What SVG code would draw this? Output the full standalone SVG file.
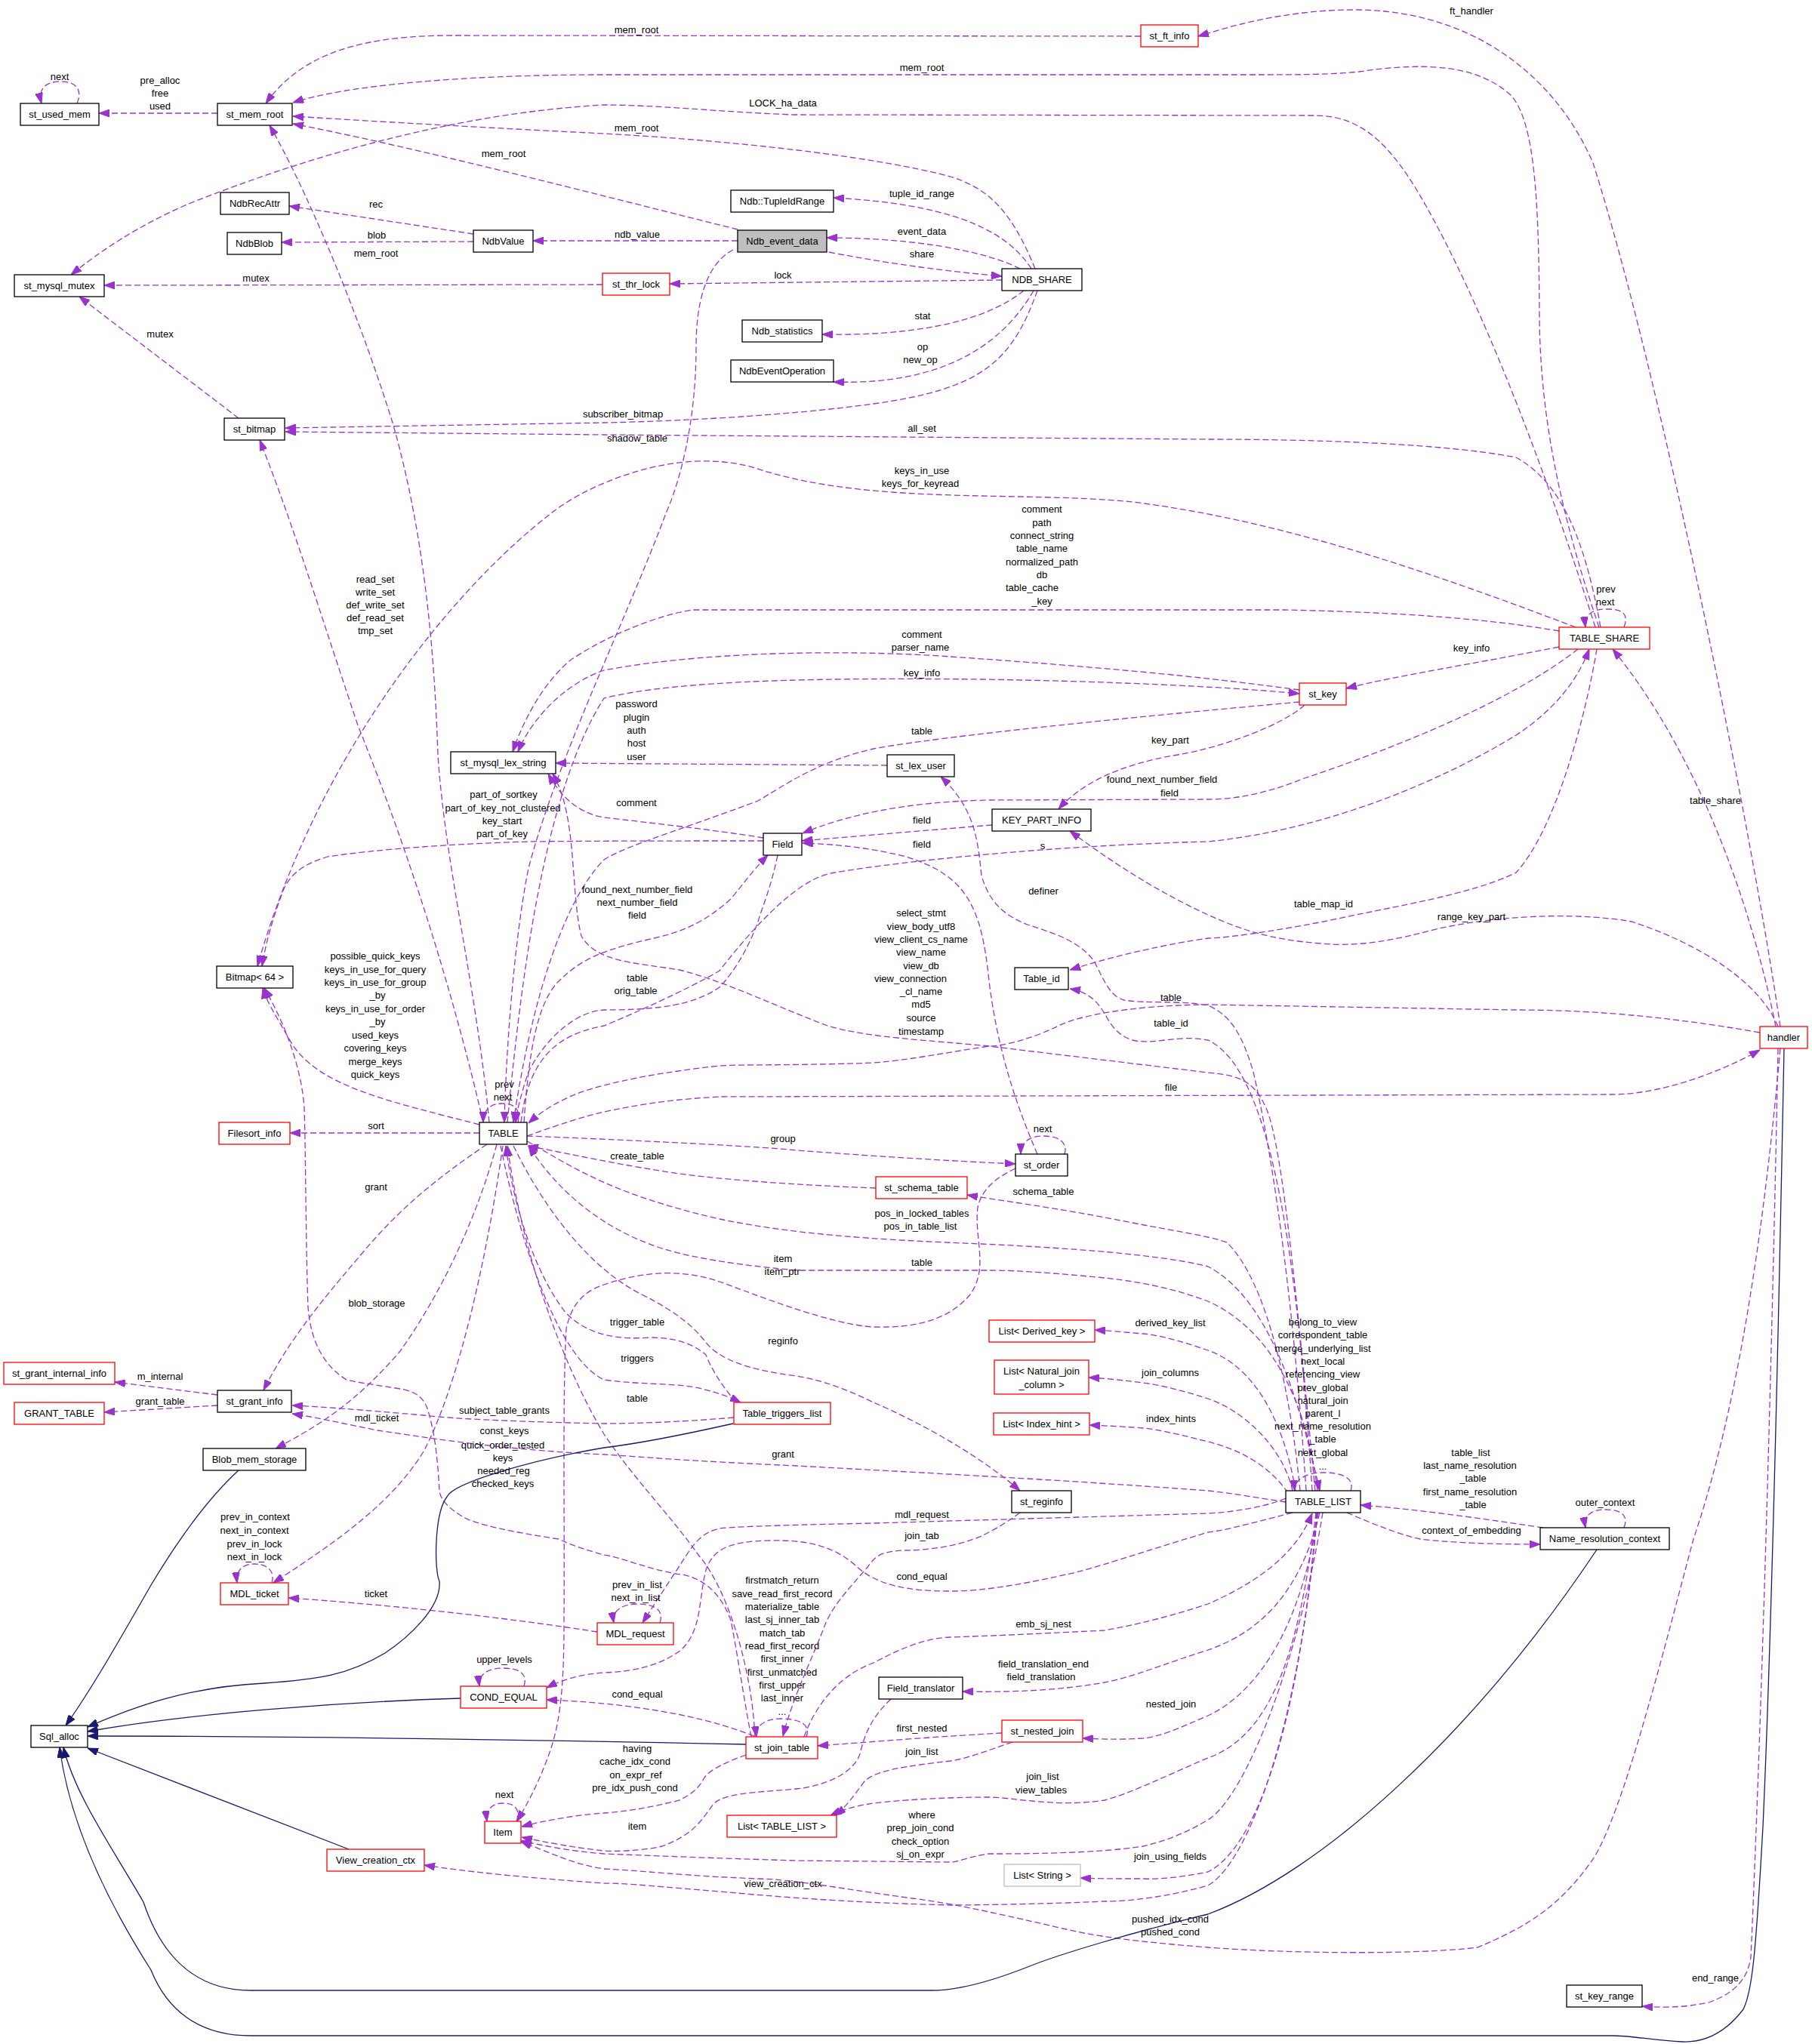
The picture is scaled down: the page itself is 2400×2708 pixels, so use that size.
<svg xmlns="http://www.w3.org/2000/svg" width="2400" height="2708" viewBox="0 0 2400 2708">
<style>
text{font-family:"Liberation Sans",Arial,sans-serif;font-size:13px;text-anchor:middle;fill:#000}
.n rect{fill:#fff;stroke:#000;stroke-width:1.3}
.n.r rect{stroke:#ff0000}
.n.g rect{stroke:#bfbfbf}
.n.f rect{fill:#bfbfbf}
.e{fill:none;stroke:#9a32cd;stroke-width:1.3;stroke-dasharray:8,4;marker-end:url(#ap)}
.i{fill:none;stroke:#191970;stroke-width:1.3;marker-end:url(#ab)}
</style>
<defs>
<marker id="ap" viewBox="0 0 14 10" refX="14" refY="5" markerWidth="14" markerHeight="10" markerUnits="userSpaceOnUse" orient="auto"><path d="M0,0L14,5L0,10z" fill="#9a32cd" stroke="#9a32cd"/></marker>
<marker id="ab" viewBox="0 0 14 10" refX="14" refY="5" markerWidth="14" markerHeight="10" markerUnits="userSpaceOnUse" orient="auto"><path d="M0,0L14,5L0,10z" fill="#191970" stroke="#191970"/></marker>
</defs>
<rect width="2400" height="2708" fill="#fff"/>
<g id="connectors">
<path class="e" d="M2358,1360 C2320,1100 2200,500 2110,216 C2060,100 1950,15 1800,13 C1700,12 1620,38 1587,48"/><text x="1949" y="19">ft_handler</text>
<path class="e" d="M1511,48 L600,47 C480,47 400,70 352,137"/><text x="843" y="44">mem_root</text>
<path class="e" d="M2118,831 C2070,690 2040,560 2039,420 C2038,280 2035,160 2000,125 C1960,90 1900,80 1800,95 C1760,99 1720,99 1650,99 L800,99 C600,99 450,115 388,136"/><text x="1221" y="94">mem_root</text>
<path class="e" d="M2113,831 C2040,600 1960,400 1890,275 C1840,185 1800,153 1740,153 L1050,152 C950,148 870,139 800,139 C600,150 400,210 250,270 C180,300 130,335 94,364"/><text x="1037" y="141">LOCK_ha_data</text>
<path class="e" d="M1371,356 C1340,280 1310,250 1259,234 C1150,205 950,185 800,177 C600,167 450,158 388,154"/><text x="843" y="174">mem_root</text>
<path class="e" d="M977,304 C800,260 550,195 388,164"/><text x="667" y="208">mem_root</text>
<path class="e" d="M648,1487 C630,1300 590,1150 580,1000 C575,850 560,700 520,560 C470,400 400,240 357,166"/><text x="498" y="340">mem_root</text>
<path class="e" d="M102,137 C110,118 100,108 80,108 C60,108 50,118 55,137"/><text x="79" y="106">next</text>
<path class="e" d="M288,150 L131,150"/><text x="212" y="111">pre_alloc</text><text x="212" y="128">free</text><text x="212" y="145">used</text>
<path class="e" d="M627,310 L383,273"/><text x="498" y="275">rec</text>
<path class="e" d="M627,320 L373,321"/><text x="499" y="316">blob</text>
<path class="e" d="M977,319 L706,319"/><text x="844" y="315">ndb_value</text>
<path class="e" d="M798,377 L138,378"/><text x="339" y="373">mutex</text>
<path class="e" d="M316,554 L105,393"/><text x="212" y="447">mutex</text>
<path class="e" d="M1366,356 C1330,300 1250,270 1104,262"/><text x="1221" y="261">tuple_id_range</text>
<path class="e" d="M1351,356 C1300,330 1200,315 1095,315"/><text x="1221" y="311">event_data</text>
<path class="e" d="M1098,334 C1180,350 1260,360 1327,366"/><text x="1221" y="341">share</text>
<path class="e" d="M1327,371 L887,376"/><text x="1037" y="369">lock</text>
<path class="e" d="M1356,385 C1300,430 1200,445 1089,443"/><text x="1222" y="423">stat</text>
<path class="e" d="M1369,385 C1320,470 1230,510 1104,506"/><text x="1222" y="464">op</text><text x="1219" y="481">new_op</text>
<path class="e" d="M1374,385 C1340,480 1300,515 1157,535 C1050,550 900,558 800,560 L378,567"/><text x="825" y="553">subscriber_bitmap</text>
<path class="e" d="M2120,831 C2100,720 2070,640 2008,606 C1900,585 1700,582 1600,582 L800,576 L378,572"/><text x="1221" y="572">all_set</text>
<path class="e" d="M971,331 C935,350 922,400 922,460 C922,560 900,640 882,680 C830,820 740,1000 700,1150 C680,1250 670,1400 668,1487"/><text x="844" y="585">shadow_table</text>
<path class="e" d="M2087,831 C1900,760 1700,690 1500,665 C1350,650 1150,670 1000,620 C900,590 780,640 730,680 C600,780 420,1000 341,1280"/><text x="1221" y="628">keys_in_use</text><text x="1219" y="645">keys_for_keyread</text>
<path class="e" d="M1011,1114 C900,1114 800,1114 700,1115 C600,1118 500,1125 434,1135 C400,1145 383,1160 375,1180 C360,1220 352,1250 347,1280"/><text x="667" y="1057">part_of_sortkey</text><text x="666" y="1075">part_of_key_not_clustered</text><text x="665" y="1092">key_start</text><text x="665" y="1109">part_of_key</text>
<path class="e" d="M635,1490 C520,1460 420,1440 385,1380 C365,1345 352,1325 348,1309"/><text x="497" y="1271">possible_quick_keys</text><text x="497" y="1289">keys_in_use_for_query</text><text x="497" y="1306">keys_in_use_for_group</text><text x="500" y="1323">_by</text><text x="497" y="1341">keys_in_use_for_order</text><text x="500" y="1358">_by</text><text x="497" y="1376">used_keys</text><text x="497" y="1393">covering_keys</text><text x="497" y="1411">merge_keys</text><text x="497" y="1428">quick_keys</text>
<path class="e" d="M640,1487 C620,1400 570,1200 474,961 C420,800 390,700 344,583"/><text x="497" y="772">read_set</text><text x="497" y="789">write_set</text><text x="497" y="806">def_write_set</text><text x="497" y="823">def_read_set</text><text x="497" y="840">tmp_set</text>
<path class="e" d="M2065,836 C2000,825 1900,812 1700,808 L917,808 C870,815 800,844 755,875 C720,905 695,950 679,996"/><text x="1380" y="679">comment</text><text x="1380" y="697">path</text><text x="1380" y="714">connect_string</text><text x="1380" y="731">table_name</text><text x="1380" y="749">normalized_path</text><text x="1380" y="766">db</text><text x="1367" y="783">table_cache</text><text x="1380" y="801">_key</text>
<path class="e" d="M1721,914 C1650,905 1550,890 1259,870 C1150,862 950,860 800,888 C750,905 705,950 686,996"/><text x="1221" y="845">comment</text><text x="1219" y="862">parser_name</text>
<path class="e" d="M672,1487 C690,1300 720,1050 800,925 C900,900 1100,898 1300,900 C1500,903 1650,912 1721,919"/><text x="1221" y="896">key_info</text>
<path class="e" d="M2065,857 C1950,880 1850,895 1783,912"/><text x="1949" y="863">key_info</text>
<path class="e" d="M1175,1014 L736,1011"/><text x="843" y="937">password</text><text x="843" y="955">plugin</text><text x="843" y="972">auth</text><text x="843" y="989">host</text><text x="843" y="1007">user</text>
<path class="e" d="M1728,934 C1700,960 1620,990 1560,1000 C1480,1013 1430,1040 1402,1072"/><text x="1550" y="985">key_part</text>
<path class="e" d="M2090,860 C2000,930 1850,990 1728,1031 C1680,1050 1640,1059 1600,1059 L1310,1060 C1200,1062 1120,1080 1063,1104"/><text x="1539" y="1037">found_next_number_field</text><text x="1549" y="1055">field</text>
<path class="e" d="M1314,1093 L1062,1114"/><text x="1221" y="1091">field</text>
<path class="e" d="M1374,1529 C1340,1450 1320,1380 1310,1300 C1300,1200 1280,1160 1200,1135 C1140,1120 1090,1118 1063,1117"/><text x="1221" y="1123">field</text>
<path class="e" d="M690,1487 C700,1400 740,1370 800,1359 C870,1330 930,1300 953,1286 C1020,1200 1070,1160 1106,1156 C1200,1140 1400,1120 1600,1115 C1750,1100 1900,1040 2008,974 C2060,940 2090,900 2105,860"/><text x="1381" y="1125">s</text>
<path class="e" d="M1721,930 C1500,950 1250,975 1157,992 C1080,1010 1040,1040 1004,1061 C900,1100 830,1120 800,1139 C740,1200 700,1350 680,1487"/><text x="1221" y="973">table</text>
<path class="e" d="M1011,1110 C950,1100 860,1090 800,1083 C770,1078 745,1060 726,1025"/><text x="843" y="1068">comment</text>
<path class="e" d="M1742,1975 C1720,1750 1700,1520 1677,1468 C1660,1430 1640,1425 1600,1421 L1310,1386 C1230,1378 1150,1375 1096,1359 C1020,1330 960,1300 900,1285 C840,1275 790,1275 770,1240 C755,1180 765,1080 732,1025"/><text x="1220" y="1214">select_stmt</text><text x="1220" y="1232">view_body_utf8</text><text x="1220" y="1249">view_client_cs_name</text><text x="1220" y="1266">view_name</text><text x="1220" y="1284">view_db</text><text x="1206" y="1301">view_connection</text><text x="1220" y="1318">_cl_name</text><text x="1220" y="1335">md5</text><text x="1220" y="1353">source</text><text x="1220" y="1371">timestamp</text>
<path class="e" d="M2355,1360 C2330,1300 2250,1250 2161,1221 C2100,1210 2000,1210 1906,1230 C1850,1245 1800,1255 1750,1250 C1680,1245 1640,1230 1600,1212 C1530,1180 1470,1140 1417,1101"/><text x="1949" y="1219">range_key_part</text>
<path class="e" d="M2352,1360 C2320,1200 2250,1000 2136,860"/><text x="2272" y="1065">table_share</text>
<path class="e" d="M2151,831 C2158,812 2148,807 2128,807 C2108,807 2098,815 2100,831"/><text x="2127" y="785">prev</text><text x="2126" y="802">next</text>
<path class="e" d="M1738,1975 C1720,1700 1690,1420 1600,1378 C1560,1370 1530,1385 1500,1378 C1475,1370 1468,1350 1460,1338 C1450,1322 1435,1313 1417,1310"/><text x="1551" y="1360">table_id</text>
<path class="e" d="M2115,860 C2100,950 2060,1100 2008,1156 C1950,1185 1850,1200 1753,1221 C1680,1235 1620,1243 1600,1243 C1550,1250 1480,1265 1417,1285"/><text x="1753" y="1202">table_map_id</text>
<path class="e" d="M2331,1368 C2200,1345 2100,1338 2008,1338 L1600,1331 C1500,1332 1430,1345 1402,1359 C1370,1375 1330,1386 1310,1386 C1250,1395 1200,1405 1157,1408 C1050,1412 980,1410 953,1412 C880,1420 830,1430 800,1438 C750,1450 720,1470 700,1488"/><text x="1551" y="1326">table</text>
<path class="e" d="M698,1505 C740,1490 770,1480 800,1473 C870,1458 920,1455 953,1453 L2136,1450 C2200,1450 2280,1420 2331,1391"/><text x="1551" y="1445">file</text>
<path class="e" d="M1730,1975 C1715,1750 1690,1550 1660,1420 C1645,1370 1630,1345 1600,1332 C1560,1325 1520,1330 1489,1325 C1470,1320 1463,1300 1450,1275 C1430,1245 1390,1235 1361,1225 C1330,1213 1310,1195 1300,1160 C1295,1110 1290,1070 1246,1029"/><text x="1382" y="1185">definer</text>
<path class="e" d="M686,1487 C690,1468 680,1462 665,1462 C650,1462 640,1470 640,1487"/><text x="668" y="1441">prev</text><text x="666" y="1458">next</text>
<path class="e" d="M635,1501 L384,1501"/><text x="498" y="1496">sort</text>
<path class="e" d="M698,1505 C800,1509 1000,1518 1055,1524 C1200,1535 1300,1540 1345,1542"/><text x="1037" y="1513">group</text>
<path class="e" d="M1410,1529 C1415,1512 1400,1505 1382,1505 C1364,1505 1352,1513 1352,1529"/><text x="1381" y="1500">next</text>
<path class="e" d="M1160,1574 C1050,1570 950,1562 900,1555 C830,1545 760,1530 699,1518"/><text x="844" y="1536">create_table</text>
<path class="e" d="M1722,1975 C1710,1850 1680,1700 1625,1646 C1600,1637 1550,1630 1500,1620 C1400,1600 1320,1590 1281,1583"/><text x="1382" y="1583">schema_table</text>
<path class="e" d="M698,1512 C750,1540 800,1580 953,1615 C1050,1635 1150,1642 1300,1648 C1450,1655 1550,1665 1600,1678 C1680,1720 1720,1850 1748,1975"/><text x="1221" y="1612">pos_in_locked_tables</text><text x="1219" y="1629">pos_in_table_list</text>
<path class="e" d="M1745,1975 C1730,1850 1680,1760 1600,1724 C1550,1705 1500,1697 1463,1693 C1400,1687 1350,1683 1310,1683 L1055,1683 C1000,1678 930,1670 880,1655 C800,1630 740,1580 700,1518"/><text x="1221" y="1677">table</text>
<path class="e" d="M1345,1548 C1320,1560 1300,1575 1295,1600 C1290,1640 1310,1680 1285,1715 C1260,1745 1220,1760 1157,1758 C1100,1755 1000,1715 953,1698 C900,1680 850,1685 800,1702 C770,1712 757,1730 750,1760 C745,1850 748,2000 747,2150 C747,2250 740,2290 725,2330 C710,2370 695,2395 685,2413"/><text x="1037" y="1672">item</text><text x="1036" y="1689">item_ptr</text>
<path class="e" d="M975,1858 C960,1840 945,1820 935,1795 C915,1778 890,1772 860,1772 C820,1775 780,1770 750,1740 C710,1690 680,1600 670,1518"/><text x="844" y="1756">trigger_table</text>
<path class="e" d="M663,1518 C690,1650 740,1800 800,1828 C850,1835 900,1832 930,1840 C950,1845 965,1850 981,1858"/><text x="844" y="1804">triggers</text>
<path class="e" d="M1000,2301 C995,2200 960,2100 925,2060 C890,2010 840,1960 800,1900 C740,1800 690,1650 672,1518"/><text x="844" y="1857">table</text>
<path class="e" d="M680,1518 C720,1600 780,1680 850,1715 C900,1740 920,1760 933,1776 C950,1800 990,1815 1055,1823 C1100,1830 1140,1850 1157,1858 C1220,1885 1300,1930 1351,1975"/><text x="1037" y="1781">reginfo</text>
<path class="e" d="M645,1516 C580,1560 530,1600 480,1660 C420,1730 380,1780 349,1842"/><text x="498" y="1577">grant</text>
<path class="e" d="M658,1516 C630,1620 580,1720 530,1790 C470,1860 420,1890 365,1919"/><text x="499" y="1731">blob_storage</text>
<path class="e" d="M666,1518 C640,1700 600,1850 561,1923 C520,1990 450,2040 362,2097"/><text x="499" y="1883">mdl_ticket</text>
<path class="e" d="M972,1878 C900,1884 840,1886 800,1886 C700,1884 600,1880 561,1875 C480,1868 430,1864 387,1862"/><text x="668" y="1873">subject_table_grants</text>
<path class="e" d="M360,2097 C365,2080 352,2072 337,2072 C322,2072 312,2080 314,2097"/><text x="338" y="2014">prev_in_context</text><text x="337" y="2032">next_in_context</text><text x="337" y="2050">prev_in_lock</text><text x="337" y="2067">next_in_lock</text>
<path class="e" d="M791,2162 C650,2140 500,2125 382,2117"/><text x="498" y="2116">ticket</text>
<path class="e" d="M1703,1985 C1680,1995 1640,2003 1600,2005 L1157,2018 C1060,2020 980,2022 953,2025 C930,2030 920,2045 912,2056 C890,2090 870,2120 851,2150"/><text x="1221" y="2011">mdl_request</text>
<path class="e" d="M874,2150 C880,2132 865,2125 845,2125 C825,2125 810,2133 813,2150"/><text x="844" y="2104">prev_in_list</text><text x="842" y="2121">next_in_list</text>
<path class="e" d="M694,2234 C700,2216 685,2210 666,2210 C647,2210 633,2218 635,2234"/><text x="668" y="2203">upper_levels</text>
<path class="e" d="M999,2300 C960,2285 930,2278 902,2272 C850,2262 800,2255 724,2252"/><text x="844" y="2249">cond_equal</text>
<path class="e" d="M1712,2004 C1650,2020 1620,2028 1600,2030 C1500,2060 1450,2078 1412,2086 C1350,2100 1300,2108 1259,2108 C1200,2108 1160,2100 1132,2073 C1100,2045 1060,2040 1019,2041 C970,2042 945,2050 935,2080 C925,2120 930,2160 902,2186 C870,2210 830,2215 800,2216 C770,2218 745,2225 724,2236"/><text x="1221" y="2093">cond_equal</text>
<path class="e" d="M684,2413 C690,2395 680,2389 666,2389 C652,2389 643,2397 645,2413"/><text x="668" y="2382">next</text>
<path class="e" d="M988,2325 C960,2335 940,2345 933,2355 C925,2370 917,2376 900,2385 C860,2395 830,2400 800,2402 C760,2405 720,2412 691,2420"/><text x="844" y="2321">having</text><text x="841" y="2338">cache_idx_cond</text><text x="842" y="2356">on_expr_ref</text><text x="841" y="2373">pre_idx_push_cond</text>
<path class="e" d="M1180,2251 C1160,2270 1147,2290 1140,2320 C1135,2345 1100,2365 1055,2370 C1000,2375 960,2375 945,2390 C930,2410 920,2430 877,2446 C850,2452 820,2453 800,2452 C760,2448 720,2440 691,2434"/><text x="844" y="2424">item</text>
<path class="e" d="M1752,2004 C1720,2200 1650,2380 1600,2411 C1560,2435 1530,2442 1514,2446 C1450,2456 1350,2456 1310,2456 C1280,2460 1270,2467 1259,2467 L1055,2465 C950,2462 850,2458 800,2456 C750,2452 720,2445 690,2439"/><text x="1221" y="2409">where</text><text x="1219" y="2426">prep_join_cond</text><text x="1219" y="2444">check_option</text><text x="1219" y="2461">sj_on_expr</text>
<path class="e" d="M2358,1389 C2330,1700 2290,1900 2243,2039 C2200,2200 2150,2400 2110,2463 C2070,2520 2030,2550 1957,2580 C1880,2590 1700,2588 1600,2580 C1500,2572 1450,2565 1412,2556 C1300,2530 1250,2520 1208,2515 C1100,2500 1050,2490 1004,2489 C900,2485 850,2478 800,2476 C760,2470 730,2455 690,2440"/><text x="1550" y="2547">pushed_idx_cond</text><text x="1550" y="2564">pushed_cond</text>
<path class="e" d="M1745,2004 C1720,2300 1650,2470 1600,2498 C1550,2512 1500,2519 1463,2519 C1400,2522 1300,2524 1259,2524 C1100,2520 1000,2510 953,2506 C880,2500 830,2495 800,2495 C700,2488 620,2480 562,2471"/><text x="1037" y="2500">view_creation_ctx</text>
<path class="e" d="M1068,2301 C1075,2283 1055,2277 1035,2277 C1015,2277 1000,2285 1002,2301"/><text x="1036" y="2098">firstmatch_return</text><text x="1036" y="2116">save_read_first_record</text><text x="1036" y="2133">materialize_table</text><text x="1036" y="2150">last_sj_inner_tab</text><text x="1036" y="2168">match_tab</text><text x="1036" y="2185">read_first_record</text><text x="1036" y="2202">first_inner</text><text x="1036" y="2220">first_unmatched</text><text x="1036" y="2237">first_upper</text><text x="1036" y="2254">last_inner</text><text x="1036" y="2272">...</text>
<path class="e" d="M1065,2301 C1080,2260 1110,2220 1157,2203 C1200,2180 1230,2170 1259,2169 C1350,2166 1420,2162 1463,2160 C1520,2150 1570,2135 1600,2125 C1680,2090 1720,2050 1738,2005"/><text x="1382" y="2156">emb_sj_nest</text>
<path class="e" d="M1351,2004 C1330,2020 1310,2030 1300,2035 C1270,2048 1230,2054 1198,2054 C1170,2055 1160,2060 1150,2075 C1120,2110 1100,2130 1090,2160 C1070,2210 1050,2250 1037,2300"/><text x="1221" y="2039">join_tab</text>
<path class="e" d="M1327,2296 C1250,2300 1150,2308 1083,2313"/><text x="1221" y="2294">first_nested</text>
<path class="e" d="M1341,2308 C1300,2322 1280,2330 1259,2333 C1200,2340 1160,2345 1145,2360 C1130,2380 1120,2395 1106,2405"/><text x="1221" y="2325">join_list</text>
<path class="e" d="M1743,2004 C1720,2200 1680,2300 1600,2329 C1550,2350 1500,2375 1463,2385 C1400,2395 1340,2381 1310,2381 C1250,2381 1190,2385 1157,2389 C1130,2393 1115,2398 1100,2405"/><text x="1381" y="2358">join_list</text><text x="1379" y="2376">view_tables</text>
<path class="e" d="M1746,2004 C1720,2180 1650,2250 1600,2273 C1560,2290 1540,2300 1514,2303 C1480,2305 1460,2304 1434,2303"/><text x="1551" y="2262">nested_join</text>
<path class="e" d="M1748,2004 C1720,2120 1660,2165 1600,2186 C1540,2205 1500,2222 1463,2229 C1400,2240 1340,2242 1275,2241"/><text x="1382" y="2209">field_translation_end</text><text x="1379" y="2226">field_translation</text>
<path class="e" d="M1744,2004 C1720,2300 1660,2450 1600,2480 C1560,2488 1530,2490 1514,2489 C1480,2489 1450,2489 1431,2488"/><text x="1550" y="2464">join_using_fields</text>
<path class="e" d="M1716,1975 C1700,1880 1660,1810 1600,1789 C1560,1775 1530,1768 1514,1767 C1490,1765 1470,1763 1450,1762"/><text x="1550" y="1757">derived_key_list</text>
<path class="e" d="M1712,1975 C1700,1920 1650,1870 1600,1853 C1560,1840 1530,1834 1514,1832 C1490,1829 1465,1826 1442,1825"/><text x="1550" y="1823">join_columns</text>
<path class="e" d="M1706,1978 C1680,1940 1640,1920 1600,1910 C1560,1900 1530,1893 1514,1892 C1490,1890 1465,1889 1443,1888"/><text x="1551" y="1884">index_hints</text>
<path class="e" d="M1703,1990 C1670,1985 1630,1978 1600,1975 C1400,1960 1200,1950 1055,1942 C900,1935 850,1930 800,1927 C650,1920 550,1902 500,1895 C450,1885 420,1878 387,1873"/><text x="1037" y="1931">grant</text>
<path class="e" d="M288,1848 L152,1831"/><text x="212" y="1828">m_internal</text>
<path class="e" d="M288,1862 L138,1871"/><text x="212" y="1861">grant_table</text>
<path class="e" d="M1789,1975 C1795,1957 1775,1951 1753,1951 C1731,1951 1713,1960 1715,1975"/><text x="1752" y="1756">belong_to_view</text><text x="1752" y="1773">correspondent_table</text><text x="1752" y="1791">merge_underlying_list</text><text x="1752" y="1808">next_local</text><text x="1752" y="1825">referencing_view</text><text x="1752" y="1843">prev_global</text><text x="1752" y="1860">natural_join</text><text x="1752" y="1877">parent_l</text><text x="1752" y="1894">next_name_resolution</text><text x="1752" y="1911">_table</text><text x="1752" y="1929">next_global</text><text x="1752" y="1947">...</text>
<path class="e" d="M2044,2024 C1950,2010 1880,2000 1802,1994"/><text x="1948" y="1929">table_list</text><text x="1947" y="1946">last_name_resolution</text><text x="1951" y="1963">_table</text><text x="1947" y="1981">first_name_resolution</text><text x="1951" y="1998">_table</text>
<path class="e" d="M1784,2004 C1820,2020 1860,2035 1881,2039 C1930,2045 2000,2046 2040,2046"/><text x="1949" y="2032">context_of_embedding</text>
<path class="e" d="M2151,2024 C2158,2006 2145,2000 2126,2000 C2107,2000 2097,2008 2100,2024"/><text x="2126" y="1995">outer_context</text>
<path class="e" d="M2355,1389 C2345,1900 2330,2350 2319,2593 C2315,2620 2300,2640 2263,2653 C2230,2660 2200,2660 2175,2658"/><text x="2272" y="2625">end_range</text>
<path class="e" d="M694,1487 C700,1400 710,1330 740,1300 C770,1270 800,1258 866,1243 C900,1235 930,1225 968,1191 C985,1170 1000,1150 1017,1133"/><text x="844" y="1183">found_next_number_field</text><text x="844" y="1200">next_number_field</text><text x="844" y="1217">field</text>
<path class="e" d="M1030,1133 C1020,1180 1010,1200 1004,1221 C990,1260 970,1290 953,1308 C920,1330 880,1338 800,1338 C760,1340 720,1380 700,1420 C690,1450 685,1470 683,1487"/><text x="844" y="1300">table</text><text x="842" y="1317">orig_table</text>
<path class="e" d="M995,2301 C985,2250 975,2180 968,2147 C955,2110 930,2090 902,2086 C860,2080 820,2062 800,2060 C770,2052 750,2044 740,2039 C680,2030 630,2020 612,2009 C590,1995 583,1985 582,1975 C580,1940 577,1900 566,1866 C560,1850 550,1845 536,1841 C500,1835 475,1832 459,1828 C430,1810 412,1780 408,1732 C405,1650 405,1530 403,1468 C400,1420 380,1360 350,1309"/><text x="668" y="1900">const_keys</text><text x="666" y="1919">quick_order_tested</text><text x="666" y="1936">keys</text><text x="667" y="1953">needed_reg</text><text x="666" y="1970">checked_keys</text>
<path class="i" d="M316,1948 C270,1990 230,2050 200,2100 C160,2170 120,2240 87,2286"/>
<path class="i" d="M971,1886 C900,1902 850,1912 800,1918 C700,1935 600,1965 592,1983 C575,2005 575,2080 582,2095 C585,2130 540,2170 510,2190 C460,2220 420,2225 350,2230 C250,2235 180,2260 116,2288"/>
<path class="i" d="M610,2250 C450,2255 250,2270 116,2294"/>
<path class="i" d="M988,2311 C700,2305 400,2300 116,2300"/>
<path class="i" d="M462,2450 L116,2316"/>
<path class="i" d="M2115,2053 C1950,2300 1750,2480 1600,2536 C1500,2560 1400,2590 1361,2606 C1300,2630 1260,2637 1234,2637 L332,2637 C250,2637 210,2580 190,2520 C150,2450 100,2380 84,2315"/>
<path class="i" d="M2363,1389 C2355,1800 2345,2200 2335,2420 C2325,2600 2320,2640 2309,2662 C2280,2700 2250,2706 2228,2705 C2190,2703 2160,2697 2136,2697 L332,2697 C260,2697 220,2660 200,2610 C130,2500 90,2400 79,2315"/>
</g>
<g id="n_st_used_mem" class="n"><rect x="27" y="137" width="104" height="29"/><text x="79" y="156">st_used_mem</text></g>
<g id="n_st_mem_root" class="n"><rect x="288" y="137" width="99" height="29"/><text x="337.5" y="156">st_mem_root</text></g>
<g id="n_NdbRecAttr" class="n"><rect x="292" y="255" width="91" height="29"/><text x="337.5" y="274">NdbRecAttr</text></g>
<g id="n_NdbBlob" class="n"><rect x="301" y="308" width="72" height="29"/><text x="337" y="327">NdbBlob</text></g>
<g id="n_NdbValue" class="n"><rect x="627" y="305" width="79" height="29"/><text x="666.5" y="324">NdbValue</text></g>
<g id="n_st_mysql_mutex" class="n"><rect x="19" y="364" width="119" height="29"/><text x="78.5" y="383">st_mysql_mutex</text></g>
<g id="n_st_bitmap" class="n"><rect x="297" y="554" width="80" height="29"/><text x="337" y="573">st_bitmap</text></g>
<g id="n_st_ft_info" class="n r"><rect x="1511" y="33" width="76" height="29"/><text x="1549" y="52">st_ft_info</text></g>
<g id="n_TupleIdRange" class="n"><rect x="968" y="252" width="136" height="29"/><text x="1036" y="271">Ndb::TupleIdRange</text></g>
<g id="n_Ndb_event_data" class="n f"><rect x="977" y="305" width="118" height="29"/><text x="1036" y="324">Ndb_event_data</text></g>
<g id="n_st_thr_lock" class="n r"><rect x="798" y="362" width="89" height="29"/><text x="842.5" y="381">st_thr_lock</text></g>
<g id="n_NDB_SHARE" class="n"><rect x="1327" y="356" width="106" height="29"/><text x="1380" y="375">NDB_SHARE</text></g>
<g id="n_Ndb_statistics" class="n"><rect x="983" y="424" width="106" height="29"/><text x="1036" y="443">Ndb_statistics</text></g>
<g id="n_NdbEventOperation" class="n"><rect x="968" y="477" width="136" height="29"/><text x="1036" y="496">NdbEventOperation</text></g>
<g id="n_st_mysql_lex_string" class="n"><rect x="597" y="996" width="139" height="29"/><text x="666.5" y="1015">st_mysql_lex_string</text></g>
<g id="n_Bitmap64" class="n"><rect x="287" y="1280" width="101" height="29"/><text x="337.5" y="1299">Bitmap&lt; 64 &gt;</text></g>
<g id="n_st_lex_user" class="n"><rect x="1175" y="1000" width="89" height="29"/><text x="1219.5" y="1019">st_lex_user</text></g>
<g id="n_Field" class="n"><rect x="1011" y="1104" width="51" height="29"/><text x="1036.5" y="1123">Field</text></g>
<g id="n_KEY_PART_INFO" class="n"><rect x="1314" y="1072" width="131" height="29"/><text x="1379.5" y="1091">KEY_PART_INFO</text></g>
<g id="n_Table_id" class="n"><rect x="1344" y="1282" width="71" height="29"/><text x="1379.5" y="1301">Table_id</text></g>
<g id="n_TABLE_SHARE" class="n r"><rect x="2065" y="831" width="120" height="29"/><text x="2125" y="850">TABLE_SHARE</text></g>
<g id="n_st_key" class="n r"><rect x="1721" y="905" width="62" height="29"/><text x="1752" y="924">st_key</text></g>
<g id="n_TABLE" class="n"><rect x="635" y="1487" width="63" height="29"/><text x="666.5" y="1506">TABLE</text></g>
<g id="n_Filesort_info" class="n r"><rect x="290" y="1487" width="94" height="29"/><text x="337" y="1506">Filesort_info</text></g>
<g id="n_st_grant_internal_info" class="n r"><rect x="5" y="1805" width="147" height="29"/><text x="78.5" y="1824">st_grant_internal_info</text></g>
<g id="n_st_grant_info" class="n"><rect x="288" y="1842" width="98" height="29"/><text x="337" y="1861">st_grant_info</text></g>
<g id="n_GRANT_TABLE" class="n r"><rect x="19" y="1858" width="119" height="29"/><text x="78.5" y="1877">GRANT_TABLE</text></g>
<g id="n_Blob_mem_storage" class="n"><rect x="269" y="1919" width="136" height="29"/><text x="337" y="1938">Blob_mem_storage</text></g>
<g id="n_st_order" class="n"><rect x="1345" y="1529" width="69" height="29"/><text x="1379.5" y="1548">st_order</text></g>
<g id="n_st_schema_table" class="n r"><rect x="1160" y="1559" width="121" height="29"/><text x="1220.5" y="1578">st_schema_table</text></g>
<g id="n_List_Derived_key" class="n r"><rect x="1310" y="1749" width="140" height="29"/><text x="1380" y="1768">List&lt; Derived_key &gt;</text></g>
<g id="n_List_Natural_join_column" class="n r"><rect x="1317" y="1802" width="125" height="45"/><text x="1379.5" y="1821">List&lt; Natural_join</text><text x="1379.5" y="1839">_column &gt;</text></g>
<g id="n_List_Index_hint" class="n r"><rect x="1316" y="1872" width="127" height="29"/><text x="1379.5" y="1891">List&lt; Index_hint &gt;</text></g>
<g id="n_Table_triggers_list" class="n r"><rect x="972" y="1858" width="128" height="29"/><text x="1036" y="1877">Table_triggers_list</text></g>
<g id="n_st_reginfo" class="n"><rect x="1340" y="1975" width="79" height="29"/><text x="1379.5" y="1994">st_reginfo</text></g>
<g id="n_handler" class="n r"><rect x="2331" y="1360" width="63" height="29"/><text x="2362.5" y="1379">handler</text></g>
<g id="n_TABLE_LIST" class="n"><rect x="1703" y="1975" width="99" height="29"/><text x="1752.5" y="1994">TABLE_LIST</text></g>
<g id="n_Name_resolution_context" class="n"><rect x="2040" y="2024" width="171" height="29"/><text x="2125.5" y="2043">Name_resolution_context</text></g>
<g id="n_MDL_ticket" class="n r"><rect x="292" y="2097" width="90" height="29"/><text x="337" y="2116">MDL_ticket</text></g>
<g id="n_COND_EQUAL" class="n r"><rect x="610" y="2234" width="114" height="29"/><text x="667" y="2253">COND_EQUAL</text></g>
<g id="n_Sql_alloc" class="n"><rect x="41" y="2286" width="75" height="29"/><text x="78.5" y="2305">Sql_alloc</text></g>
<g id="n_Item" class="n r"><rect x="642" y="2413" width="48" height="29"/><text x="666" y="2432">Item</text></g>
<g id="n_View_creation_ctx" class="n r"><rect x="433" y="2450" width="129" height="29"/><text x="497.5" y="2469">View_creation_ctx</text></g>
<g id="n_MDL_request" class="n r"><rect x="791" y="2150" width="101" height="29"/><text x="841.5" y="2169">MDL_request</text></g>
<g id="n_st_join_table" class="n r"><rect x="988" y="2301" width="95" height="29"/><text x="1035.5" y="2320">st_join_table</text></g>
<g id="n_Field_translator" class="n"><rect x="1164" y="2222" width="111" height="29"/><text x="1219.5" y="2241">Field_translator</text></g>
<g id="n_st_nested_join" class="n r"><rect x="1327" y="2279" width="107" height="29"/><text x="1380.5" y="2298">st_nested_join</text></g>
<g id="n_List_TABLE_LIST" class="n r"><rect x="963" y="2405" width="145" height="29"/><text x="1035.5" y="2424">List&lt; TABLE_LIST &gt;</text></g>
<g id="n_List_String" class="n g"><rect x="1330" y="2470" width="101" height="29"/><text x="1380.5" y="2489">List&lt; String &gt;</text></g>
<g id="n_st_key_range" class="n"><rect x="2075" y="2630" width="100" height="29"/><text x="2125" y="2649">st_key_range</text></g>
</svg>
